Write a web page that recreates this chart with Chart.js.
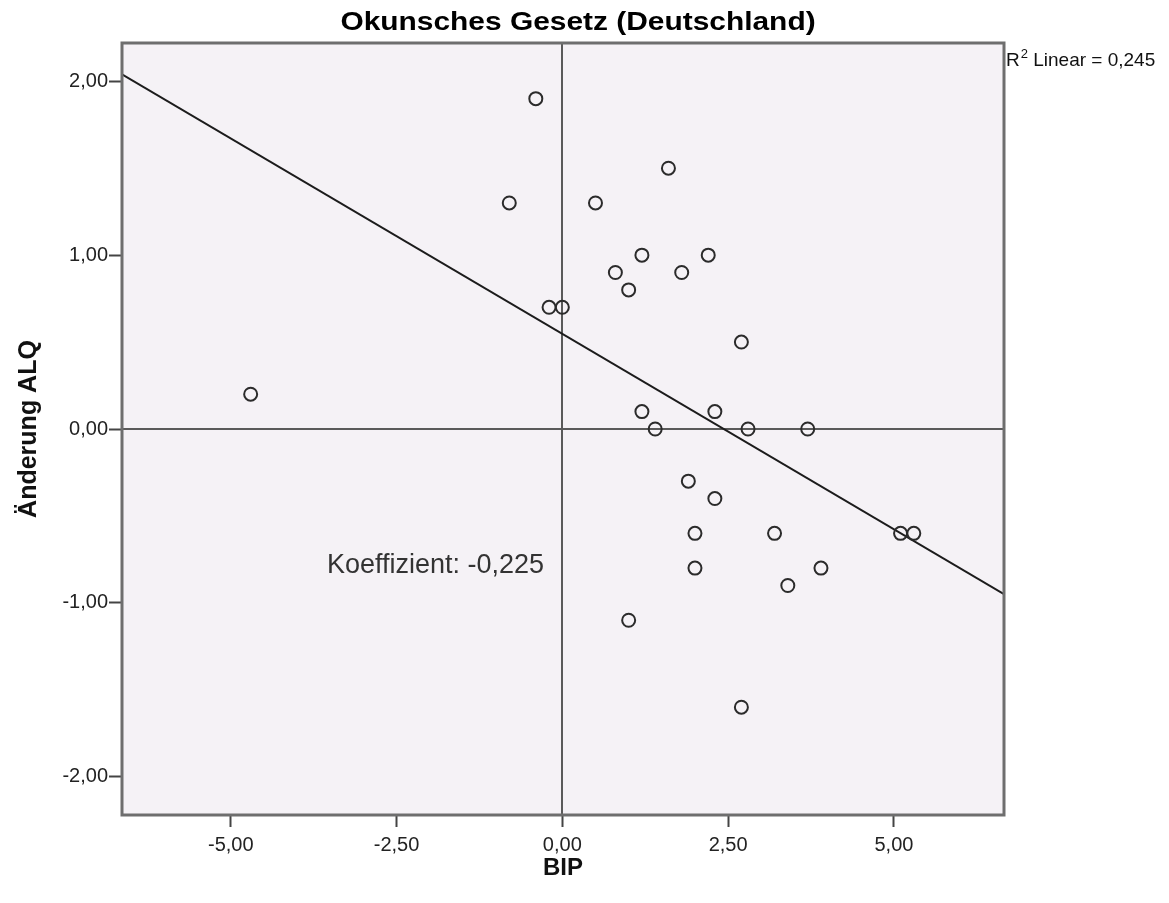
<!DOCTYPE html>
<html>
<head>
<meta charset="utf-8">
<script src="https://cdn.jsdelivr.net/npm/chart.js@4"></script>
<style>
  html, body { margin: 0; padding: 0; background: #ffffff; }
  #wrap { width: 1169px; height: 903px; position: relative; }
</style>
</head>
<body>
<div id="wrap"><canvas id="myChart"></canvas></div>
<script>
// BIP-Wachstum (x) und Aenderung der Arbeitslosenquote (y)
var bip = [-4.7, -0.8, -0.4, -0.2, 0.0, 0.5, 0.8, 1.0, 1.2, 1.6, 1.8, 2.2, 2.7, 1.2, 2.3,
           1.4, 2.8, 3.7, 1.9, 2.3, 2.0, 3.2, 5.1, 5.3, 2.0, 3.9, 3.4, 1.0, 2.7];
var alq = [0.2, 1.3, 1.9, 0.7, 0.7, 1.3, 0.9, 0.8, 1.0, 1.5, 0.9, 1.0, 0.5, 0.1, 0.1,
           0.0, 0.0, 0.0, -0.3, -0.4, -0.6, -0.6, -0.6, -0.6, -0.8, -0.8, -0.9, -1.1, -1.6];

// Regressionsgerade (Endpunkte am Rand des Diagramms)
var fitX = [-6.64, 6.66];
var fitY = [2.04, -0.95];

var xTicks = [-5, -2.5, 0, 2.5, 5];
var yTicks = [-2, -1, 0, 1, 2];

var titleText = 'Okunsches Gesetz (Deutschland)';
var coefText = 'Koeffizient: -0,225';
var r2Text = ' Linear = 0,245';

Chart.defaults.font.family = '"Liberation Sans", Arial, sans-serif';
Chart.defaults.color = '#222';

function fmt(v) {
    return v.toFixed(2).replace('.', ',');
}

var points = bip.map(function (x, i) { return { x: x, y: alq[i] }; });
var fitLine = fitX.map(function (x, i) { return { x: x, y: fitY[i] }; });

var spssPlugin = {
    id: 'spss',
    beforeDatasetsDraw: function (chart) {
        var c = chart.ctx, a = chart.chartArea;
        var xs = chart.scales.x, ys = chart.scales.y;
        c.save();
        c.fillStyle = '#f5f2f6';
        c.fillRect(a.left, a.top, a.right - a.left, a.bottom - a.top);
        // Bezugslinien bei 0
        c.strokeStyle = '#5a5a5a';
        c.lineWidth = 2;
        c.beginPath();
        var x0 = Math.round(xs.getPixelForValue(0));
        var y0 = Math.round(ys.getPixelForValue(0));
        c.moveTo(x0, a.top);
        c.lineTo(x0, a.bottom);
        c.moveTo(a.left, y0);
        c.lineTo(a.right, y0);
        c.stroke();
        c.restore();
    },
    afterDraw: function (chart) {
        var c = chart.ctx, a = chart.chartArea;
        var xs = chart.scales.x, ys = chart.scales.y;
        c.save();
        // Rahmen
        c.strokeStyle = '#6e6e6e';
        c.lineWidth = 3;
        c.strokeRect(a.left, a.top, a.right - a.left, a.bottom - a.top);

        // Titel
        c.fillStyle = '#000';
        c.font = 'bold 26px "Liberation Sans", Arial, sans-serif';
        c.textAlign = 'center';
        c.textBaseline = 'alphabetic';
        c.save();
        c.translate(578, 30);
        c.scale(1.15, 1);
        c.fillText(titleText, 0, 0);
        c.restore();

        // Koeffizient
        c.fillStyle = '#333';
        c.font = '27px "Liberation Sans", Arial, sans-serif';
        c.textAlign = 'left';
        c.fillText(coefText, xs.getPixelForValue(-3.55), ys.getPixelForValue(-0.83));

        // R^2
        c.fillStyle = '#111';
        var rx = a.right + 2, ry = 66;
        c.font = '19px "Liberation Sans", Arial, sans-serif';
        c.fillText('R', rx, ry);
        var w = c.measureText('R').width;
        c.font = '13px "Liberation Sans", Arial, sans-serif';
        c.fillText('2', rx + w + 1, ry - 8);
        var w2 = c.measureText('2').width;
        c.font = '19px "Liberation Sans", Arial, sans-serif';
        c.fillText(r2Text, rx + w + w2 + 1, ry);
        c.restore();
    }
};

var ctx = document.getElementById('myChart').getContext('2d');
var myChart = new Chart(ctx, {
    type: 'scatter',
    data: {
        datasets: [{
            label: 'ALQ',
            data: points,
            pointStyle: 'circle',
            pointRadius: 6.5,
            pointHoverRadius: 6.5,
            backgroundColor: 'rgba(0,0,0,0)',
            borderColor: '#2b2b2b',
            borderWidth: 2,
            order: 1
        }, {
            type: 'line',
            label: 'Linear',
            data: fitLine,
            borderColor: '#1c1c1c',
            borderWidth: 2,
            pointRadius: 0,
            fill: false,
            order: 2
        }]
    },
    options: {
        responsive: true,
        maintainAspectRatio: false,
        animation: false,
        devicePixelRatio: 1,
        layout: {
            padding: { top: 43, right: 165, bottom: 0, left: 0 }
        },
        plugins: {
            legend: { display: false },
            tooltip: { enabled: false },
            title: { display: false }
        },
        scales: {
            x: {
                type: 'linear',
                min: -6.64,
                max: 6.66,
                afterBuildTicks: function (scale) {
                    scale.ticks = xTicks.map(function (v) { return { value: v }; });
                },
                afterFit: function (scale) { scale.height = 88; },
                ticks: {
                    font: { size: 20 },
                    color: '#222',
                    padding: 6,
                    callback: function (v) { return fmt(v); }
                },
                grid: {
                    drawOnChartArea: false,
                    drawTicks: true,
                    tickLength: 12,
                    tickWidth: 2,
                    tickColor: '#444'
                },
                border: { display: false },
                title: {
                    display: true,
                    text: 'BIP',
                    font: { size: 24, weight: 'bold' },
                    color: '#111',
                    padding: { top: 0, bottom: 20 }
                }
            },
            y: {
                type: 'linear',
                min: -2.22,
                max: 2.22,
                afterBuildTicks: function (scale) {
                    scale.ticks = yTicks.map(function (v) { return { value: v }; });
                },
                afterFit: function (scale) { scale.width = 122; },
                ticks: {
                    font: { size: 20 },
                    color: '#222',
                    padding: 1,
                    callback: function (v) { return fmt(v); }
                },
                grid: {
                    drawOnChartArea: false,
                    drawTicks: true,
                    tickLength: 13,
                    tickWidth: 2,
                    tickColor: '#444'
                },
                border: { display: false },
                title: {
                    display: true,
                    text: 'Änderung ALQ',
                    font: { size: 25, weight: 'bold' },
                    color: '#111',
                    padding: { top: 14, bottom: 0 }
                }
            }
        }
    },
    plugins: [spssPlugin]
});
</script>
</body>
</html>
